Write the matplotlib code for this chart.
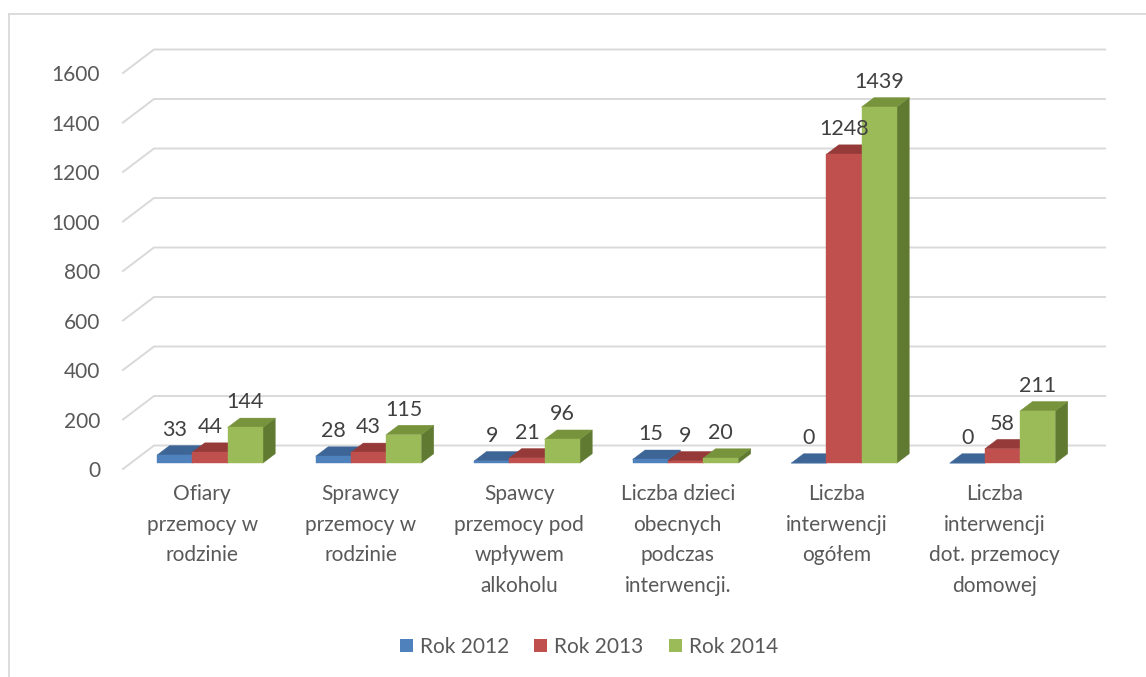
import matplotlib
matplotlib.use('Agg')
import matplotlib.pyplot as plt
from matplotlib.patches import Polygon, Patch
from matplotlib.lines import Line2D

plt.rcParams['font.family'] = ['Lato', 'DejaVu Sans']

# Data
categories = ['Ofiary\nprzemocy w\nrodzinie',
              'Sprawcy\nprzemocy w\nrodzinie',
              'Spawcy\nprzemocy pod\nwpływem\nalkoholu',
              'Liczba dzieci\nobecnych\npodczas\ninterwencji.',
              'Liczba\ninterwencji\nogółem',
              'Liczba\ninterwencji\ndot. przemocy\ndomowej']
rok_2012 = [33, 28, 9, 15, 0, 0]
rok_2013 = [44, 43, 21, 9, 1248, 58]
rok_2014 = [144, 115, 96, 20, 1439, 211]
series_labels = ['Rok 2012', 'Rok 2013', 'Rok 2014']
y_ticks = [0, 200, 400, 600, 800, 1000, 1200, 1400, 1600]

# face colours: front, top, side
colors = [('#4F81BD', '#3D6596', '#385D8A'),
          ('#C0504D', '#953A38', '#8A3735'),
          ('#9BBB59', '#77933C', '#617A31')]

W, H = 1146, 677
fig = plt.figure(figsize=(W / 100, H / 100), dpi=100)
# front plane of the 3D box in pixels
x0, x1, y0, y1 = 123, 1074, 469, 73
ax = fig.add_axes([x0 / W, 1 - y0 / H, (x1 - x0) / W, (y0 - y1) / H])
ax.set_xlim(0, 6)
ax.set_ylim(0, 1600)
for s in ax.spines.values():
    s.set_visible(False)

# depth of the box in data units (31 px right, 23.5 px up)
DX = 31 / ((x1 - x0) / 6)
DY = 23.5 * 1600 / (y0 - y1)

grid_c = '#D9D9D9'
for v in y_ticks:
    ax.add_line(Line2D([0, DX, 6 + DX], [v, v + DY, v + DY], color=grid_c,
                       lw=1.4, clip_on=False, zorder=1))

ax.set_yticks(y_ticks)
ax.set_yticklabels([str(v) for v in y_ticks])
ax.tick_params(axis='y', length=0, pad=16.5, labelsize=15, labelcolor='#595959')
ax.set_xticks([i + 0.5 for i in range(6)])
ax.set_xticklabels(categories, linespacing=1.66)
ax.tick_params(axis='x', length=0, pad=11, labelsize=15, labelcolor='#595959')

# bars
bw = 1 / 4.5
d0, d1 = 0.25, 0.65
series = [rok_2012, rok_2013, rok_2014]
for i in range(6):
    for k, vals in enumerate(series):
        v = vals[i]
        fc, tc, sc = colors[k]
        xl = i + 0.75 * bw + k * bw + d0 * DX
        xr = xl + bw
        yb = d0 * DY
        yt = yb + v
        ox, oy = (d1 - d0) * DX, (d1 - d0) * DY
        side = [(xr, yb), (xr + ox, yb + oy), (xr + ox, yt + oy), (xr, yt)]
        top = [(xl, yt), (xl + ox, yt + oy), (xr + ox, yt + oy), (xr, yt)]
        front = [(xl, yb), (xr, yb), (xr, yt), (xl, yt)]
        ax.add_patch(Polygon(side, closed=True, fc=sc, ec=sc, lw=0.3, clip_on=False, zorder=3))
        ax.add_patch(Polygon(top, closed=True, fc=tc, ec=tc, lw=0.3, clip_on=False, zorder=3))
        ax.add_patch(Polygon(front, closed=True, fc=fc, ec=fc, lw=0.3, clip_on=False, zorder=3))
        ax.annotate(str(v), ((xl + xr) / 2, yt + oy), xytext=(0, 7),
                    textcoords='offset points', ha='center', va='baseline',
                    fontsize=15.5, color='#404040', zorder=5, annotation_clip=False)

# legend
handles = [Patch(facecolor=c[0], edgecolor='none') for c in colors]
leg = fig.legend(handles, series_labels, loc='center',
                 bbox_to_anchor=(589 / W, 1 - 647 / H), ncol=3, frameon=False,
                 fontsize=15, handlelength=0.62, handleheight=0.62,
                 handletextpad=0.35, columnspacing=1.2)
for t in leg.get_texts():
    t.set_color('#595959')

# chart border (only top and left edges fall inside the picture)
fig.add_artist(Line2D([8.5 / W, 8.5 / W], [0, 1 - 14 / H], color=grid_c, lw=1.3,
                      transform=fig.transFigure))
fig.add_artist(Line2D([8.5 / W, 1], [1 - 14 / H, 1 - 14 / H], color=grid_c, lw=1.3,
                      transform=fig.transFigure))

fig.savefig('out.png', dpi=100, facecolor='white')
